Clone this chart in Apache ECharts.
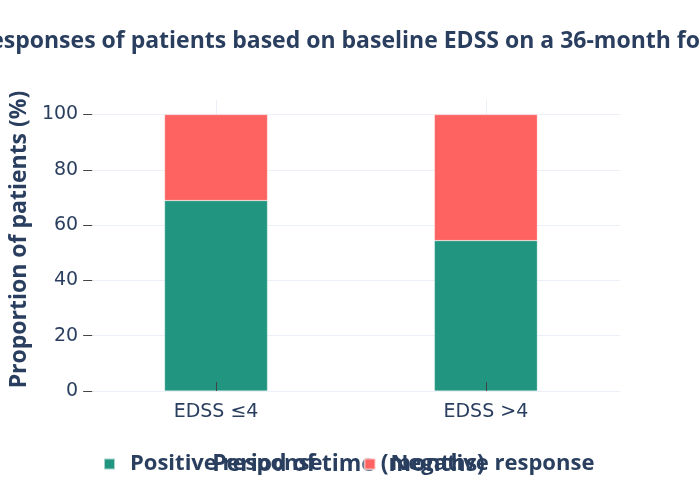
<!DOCTYPE html>
<html>
<head>
<meta charset="utf-8">
<script src="https://cdn.jsdelivr.net/npm/echarts@6/dist/echarts.min.js"></script>
<style>html,body{margin:0;padding:0;background:#fff}#c{width:700px;height:500px}</style>
</head>
<body>
<div id="c"></div>
<script>
const categories = ['EDSS ≤4', 'EDSS >4'];
const positiveResponse = [68.9, 54.4];
const negativeResponse = [31.1, 45.6];
const yTicks = [0, 20, 40, 60, 80, 100];
const xPositions = categories.map((c, i) => i);

const txt = '#2a3f5f';
const grid = '#ebf0f8';
const chart = echarts.init(document.getElementById('c'), null, {renderer: 'canvas'});
chart.setOption({
  animation: false,
  backgroundColor: '#fff',
  title: {
    text: 'Responses of patients based on baseline EDSS on a 36-month follow-up',
    left: -30, top: 25,
    textStyle: {fontFamily: 'Open Sans', fontWeight: 'bold', fontSize: 23, color: txt}
  },
  legend: {
    bottom: 20, left: 98,
    icon: 'rect', itemWidth: 11, itemHeight: 11, itemGap: 41,
    textStyle: {fontFamily: 'Open Sans', fontWeight: 'bold', fontSize: 22, color: txt, padding: [0, 0, 0, 10]},
    data: ['Positive response', 'Negative response']
  },
  grid: {left: 90, right: 80, top: 100, bottom: 109},
  xAxis: [{
    type: 'value', min: -0.459, max: 1.497,
    name: 'Period of time (months)', nameLocation: 'middle', nameGap: 62,
    nameTextStyle: {fontFamily: 'Open Sans', fontWeight: 'bold', fontSize: 23, color: txt, padding: [0, 15, 0, 0]},
    axisLine: {show: false, onZero: false},
    axisTick: {show: false, customValues: xPositions},
    axisLabel: {fontFamily: 'DejaVu Sans', fontSize: 19, color: txt, margin: 12,
      customValues: xPositions, formatter: v => categories[Math.round(v)]},
    splitLine: {show: true, lineStyle: {color: grid, width: 1}}
  }, {
    type: 'value', min: -0.459, max: 1.497, position: 'bottom', z: 10,
    axisLine: {show: false, onZero: false},
    axisTick: {show: true, inside: true, length: 9, customValues: xPositions, lineStyle: {color: '#444', width: 1}},
    axisLabel: {show: false},
    splitLine: {show: false}
  }],
  yAxis: {
    type: 'value', min: 0, max: 105.26,
    name: 'Proportion of patients (%)', nameLocation: 'middle', nameGap: 61,
    nameTextStyle: {fontFamily: 'Open Sans', fontWeight: 'bold', fontSize: 23, color: txt, padding: [0, 0, 0, 12]},
    axisLine: {show: false, onZero: false},
    axisTick: {show: true, length: 9, lineStyle: {color: '#444', width: 1}, customValues: yTicks},
    axisLabel: {fontFamily: 'DejaVu Sans', fontSize: 19, color: txt, margin: 14, customValues: yTicks},
    splitLine: {show: true, lineStyle: {color: grid, width: 1}}
  },
  series: [{
    name: 'Positive response', type: 'bar', stack: 'a', barWidth: 103,
    encode: {x: 1, y: 0},
    data: positiveResponse.map((v, i) => [v, xPositions[i]]),
    itemStyle: {color: '#219580', borderColor: 'rgba(255,255,255,0.6)', borderWidth: 0.5}
  }, {
    name: 'Negative response', type: 'bar', stack: 'a', barWidth: 103,
    encode: {x: 1, y: 0},
    data: negativeResponse.map((v, i) => [v, xPositions[i]]),
    itemStyle: {color: '#ff6361', borderColor: 'rgba(255,255,255,0.6)', borderWidth: 0.5}
  }]
});
</script>
</body>
</html>
